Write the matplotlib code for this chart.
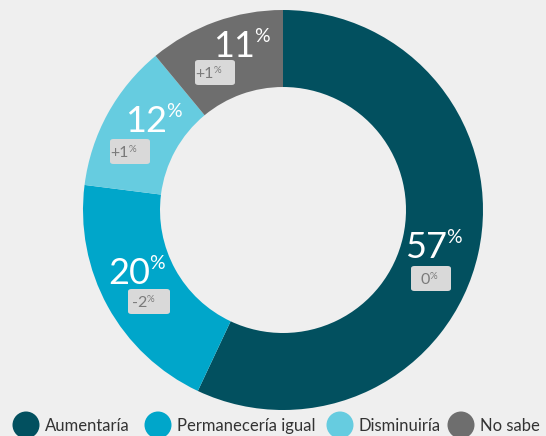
import matplotlib
matplotlib.use("Agg")
import matplotlib.pyplot as plt
from matplotlib.patches import FancyBboxPatch, Ellipse

categories = ["Aumentaría", "Permanecería igual", "Disminuiría", "No sabe"]
values = [57, 20, 12, 11]
changes = ["0", "-2", "+1", "+1"]
colors = ["#02505F", "#00A6CA", "#66CCE0", "#6E6E6E"]

W, H = 546, 436
BG = "#EFEFEF"
plt.rcParams['font.family'] = ['Lato', 'DejaVu Sans']

fig = plt.figure(figsize=(W / 100, H / 100), dpi=100, facecolor=BG)
cx, cy, R = 283, 210, 200
ax = fig.add_axes([(cx - R) / W, (H - cy - R) / H, 2 * R / W, 2 * R / H])
ax.set_facecolor(BG)
ax.pie(values, colors=colors, startangle=90, counterclock=False,
       wedgeprops=dict(width=77 / 200, edgecolor='none'), radius=1.0)
ax.set_xlim(-1, 1)
ax.set_ylim(-1, 1)
ax.set_aspect('equal')
ax.axis('off')

def fx(x):
    return x / W

def fy(y):
    return 1 - y / H

# label layout (pixel positions): digits split x, digits baseline y, box left, box top, box w
layout = [
    (447, 258, 411, 266, 40),
    (150, 284, 128, 289, 42),
    (167, 132, 110, 139, 40),
    (255, 57, 195, 60, 40),
]
for v, ch, (sx, by, bl, bt, bw) in zip(values, changes, layout):
    fig.text(fx(sx), fy(by), str(v), color='white', fontsize=26,
             ha='right', va='baseline')
    fig.text(fx(sx - 1), fy(by - 29), "%", color='white', fontsize=14,
             ha='left', va='top')
    bh = 25
    box = FancyBboxPatch((fx(bl), fy(bt + bh)), bw / W, bh / H,
                         boxstyle="round,pad=0,rounding_size=0.006",
                         transform=fig.transFigure, facecolor='#D9D9D9',
                         edgecolor='none')
    fig.add_artist(box)
    fig.text(fx(bl + 19), fy(bt + 18), ch, color='#7A7A7A', fontsize=11.5,
             ha='right', va='baseline')
    fig.text(fx(bl + 19), fy(bt + 6), "%", color='#7A7A7A', fontsize=7,
             ha='left', va='top')

# legend
leg_x = [26, 158, 340, 461]
for c, lab, lx in zip(colors, categories, leg_x):
    fig.add_artist(Ellipse((fx(lx), fy(425)), 27 / W, 27 / H,
                           transform=fig.transFigure, facecolor=c,
                           edgecolor='none'))
    fig.text(fx(lx + 19), fy(426), lab, color='#333333', fontsize=12,
             ha='left', va='center')

fig.savefig("out.png", dpi=100, facecolor=BG)
